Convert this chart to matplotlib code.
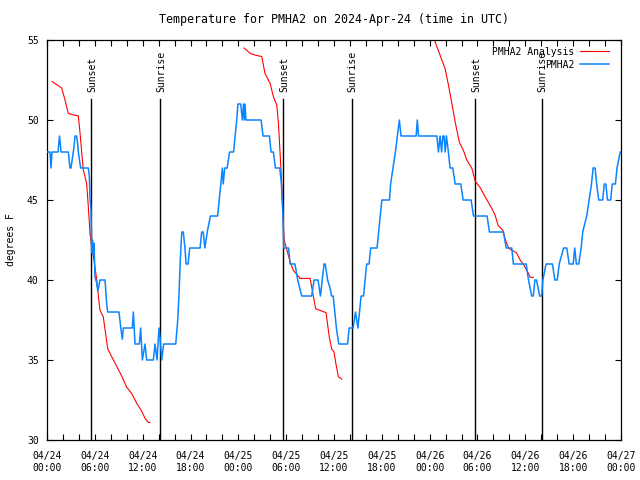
import matplotlib
matplotlib.use("Agg")
import matplotlib.pyplot as plt

# hours since 04/24 00:00 UTC
tick_hours = [0, 6, 12, 18, 24, 30, 36, 42, 48, 54, 60, 66, 72]
tick_labels = ["04/24\n00:00", "04/24\n06:00", "04/24\n12:00", "04/24\n18:00",
               "04/25\n00:00", "04/25\n06:00", "04/25\n12:00", "04/25\n18:00",
               "04/26\n00:00", "04/26\n06:00", "04/26\n12:00", "04/26\n18:00",
               "04/27\n00:00"]

sun_hours = [5.55, 14.2, 29.65, 38.2, 53.7, 62.1]
sun_labels = ["Sunset", "Sunrise", "Sunset", "Sunrise", "Sunset", "Sunrise"]

# analysis runs (three separate pieces)
ana1_h = [0.66, 1.84, 2.26, 2.67, 3.93, 4.14, 4.35, 4.55, 4.98, 5.18, 5.40, 5.61,
          5.81, 6.02, 6.24, 6.44, 6.65, 7.06, 7.28, 7.62, 8.12, 8.75, 9.37, 10.0,
          10.63, 11.25, 11.88, 12.30, 12.71, 12.92]
ana1_t = [52.4, 52.0, 51.25, 50.4, 50.25, 49.2, 48.0, 46.9, 46.0, 44.6, 42.9, 42.1,
          41.5, 40.8, 40.0, 39.0, 38.1, 37.7, 36.9, 35.7, 35.2, 34.6, 34.0, 33.3,
          32.9, 32.3, 31.8, 31.35, 31.1, 31.1]
ana2_h = [24.72, 25.47, 26.1, 26.94, 27.35, 27.98, 28.4, 28.82, 29.03, 29.24, 29.45,
          29.57, 29.74, 30.08, 30.49, 30.9, 31.74, 33.0, 33.5, 33.7, 34.25, 35.0,
          35.4, 35.7, 36.0, 36.26, 36.55, 36.97]
ana2_t = [54.5, 54.17, 54.06, 53.96, 52.9, 52.3, 51.46, 50.94, 49.8, 47.9, 46.0,
          44.2, 42.5, 41.9, 41.15, 40.6, 40.1, 40.1, 38.75, 38.2, 38.1, 37.96,
          36.46, 35.7, 35.5, 34.7, 33.96, 33.8]
ana3_h = [48.6, 49.3, 49.94, 50.35, 50.78, 51.19, 51.73, 52.23, 52.66, 53.29, 53.74,
          54.3, 54.96, 55.8, 56.2, 56.6, 57.2, 57.5, 57.9, 58.1, 58.9, 59.35, 59.85,
          60.4, 60.6, 61.0]
ana3_t = [55.0, 54.06, 53.2, 52.2, 51.04, 49.9, 48.6, 48.1, 47.5, 46.98, 46.15,
          45.8, 45.2, 44.47, 44.06, 43.4, 43.1, 42.5, 42.0, 41.92, 41.7, 41.25, 40.9,
          40.4, 40.17, 40.17]

# observations
obs_h = [0.0, 0.38, 0.5, 0.63, 1.38, 1.57, 1.76, 2.67, 2.89, 3.01, 3.1, 3.3, 3.43,
         3.51, 3.72, 3.85, 3.93, 4.22, 5.18, 5.31, 5.4, 5.52, 5.61, 5.7, 5.81, 5.9,
         6.02, 6.24, 6.37, 6.5, 6.65, 7.28, 7.49, 7.61, 9.03, 9.28, 9.45, 9.58,
         10.7, 10.83, 11.04, 11.58, 11.75, 11.96, 12.3, 12.5, 13.34, 13.55, 13.8,
         14.05, 14.2, 14.39, 14.64, 14.9, 16.15, 16.4, 16.55, 16.7, 16.9, 17.1,
         17.3, 17.45, 17.7, 17.9, 19.2, 19.4, 19.6, 19.8, 20.1, 20.5, 21.4, 21.6,
         21.8, 22.0, 22.1, 22.3, 22.6, 22.9, 23.4, 23.6, 23.8, 23.95, 24.3, 24.5,
         24.65, 24.75, 24.85, 24.95, 26.85, 27.1, 27.9, 28.1, 28.4, 28.65, 29.2,
         29.4, 29.6, 29.7, 30.3, 30.5, 31.1, 31.45, 31.95, 33.2, 33.5, 34.0, 34.3,
         34.75, 34.9, 35.2, 35.5, 35.7, 35.9, 36.1, 36.3, 36.6, 37.7, 37.9, 38.4,
         38.7, 39.0, 39.4, 39.7, 39.9, 40.1, 40.4, 40.6, 41.4, 41.6, 41.8, 42.0,
         42.96, 43.1, 43.4, 43.7, 43.95, 44.2, 44.4, 46.3, 46.45, 46.6, 48.9, 49.1,
         49.3, 49.5, 49.65, 49.8, 49.95, 50.1, 50.35, 50.56, 50.9, 51.2, 51.9, 52.2,
         53.2, 53.5, 55.2, 55.5, 57.25, 57.6, 58.3, 58.5, 60.1, 60.4, 60.8, 61.0,
         61.2, 61.4, 61.8, 62.05, 62.2, 62.6, 63.4, 63.7, 64.0, 64.25, 64.8, 65.2,
         65.5, 66.0, 66.2, 66.4, 66.7, 67.0, 67.2, 67.7, 68.0, 68.3, 68.5, 68.75,
         68.95, 69.2, 69.7, 69.9, 70.1, 70.3, 70.7, 70.9, 71.3, 71.5, 71.9, 72.0]
obs_t = [48, 48, 47, 48, 48, 49, 48, 48, 47, 47, 47.3, 48, 48.5,
         49, 49, 48.5, 48, 47, 47, 46.5, 45, 44.4, 41.7, 42.5, 41.6, 42.3,
         40.2, 39.8, 39.3, 39.6, 40, 40, 38.5, 38, 38, 36.9, 36.3, 37,
         37, 38, 36, 36, 37, 35, 36, 35, 35, 36, 35,
         37, 36.3, 35, 36, 36, 36, 37.5, 39, 41, 43, 43,
         42, 41, 41, 42, 42, 43, 43, 42, 43, 44, 44, 45,
         46, 47, 46, 47, 47, 48, 48, 49, 50, 51, 51, 50,
         51, 50, 51, 50, 50, 49, 49, 48, 48, 47, 47,
         46, 44, 42, 42, 41, 41, 40, 39, 39, 40, 40, 39,
         41, 41, 40, 39.5, 39, 39, 38, 37, 36, 36, 37, 37,
         38, 37, 39, 39, 40, 41, 41, 42, 42, 43, 44, 45,
         45, 46, 47, 48, 49, 50, 49, 49, 50, 49, 49, 48,
         49, 48, 49, 49, 48, 49, 48, 47, 47, 46, 46, 45,
         45, 44, 44, 43, 43, 42, 42, 41, 41, 40, 39, 39,
         40, 40, 39, 39, 40, 41, 41, 40, 40, 41, 42, 42,
         41, 41, 42, 41, 41, 42, 43, 44, 45, 46, 47, 47,
         46, 45, 45, 46, 46, 45, 45, 46, 46, 47, 48, 48]

plt.rcParams['font.family'] = ['DejaVu Sans Mono']
plt.rcParams['font.size'] = 7

fig = plt.figure(figsize=(6.4, 4.8), dpi=100)
ax = fig.add_axes([47 / 640, 40 / 480, 574 / 640, 400 / 480])

for h, lab in zip(sun_hours, sun_labels):
    ax.axvline(h, ymin=0, ymax=0.8525, color='black', lw=1.0, zorder=1)
    ax.text(h + 0.1, 0.87, lab, rotation=90, ha='center', va='bottom',
            transform=ax.get_xaxis_transform())

ax.plot(ana1_h, ana1_t, color='#ff0000', lw=0.8, label='PMHA2 Analysis', zorder=2)
ax.plot(ana2_h, ana2_t, color='#ff0000', lw=0.8, zorder=2)
ax.plot(ana3_h, ana3_t, color='#ff0000', lw=0.8, zorder=2)
ax.plot(obs_h, obs_t, color='#0a84ff', lw=1.1, label='PMHA2', zorder=3)

ax.set_xlim(0, 72)
ax.set_ylim(30, 55)
ax.set_xticks(tick_hours)
ax.set_xticklabels(tick_labels)
ax.set_xticks(range(0, 73, 2), minor=True)
ax.set_yticks([30, 35, 40, 45, 50, 55])
ax.tick_params(which='both', direction='in', top=True, right=True, length=4, width=0.8,
               pad=8)
ax.tick_params(axis='y', pad=6)
for s in ax.spines.values():
    s.set_linewidth(0.9)

ax.set_ylabel("degrees F", labelpad=8)
ax.set_title("Temperature for PMHA2 on 2024-Apr-24 (time in UTC)", pad=12)
ax.legend(loc='upper right', bbox_to_anchor=(0.991, 1.0), frameon=False,
          markerfirst=False, handlelength=3.0, handletextpad=0.6, labelspacing=0.3,
          borderaxespad=0.3)

fig.savefig("out.png", dpi=100)
